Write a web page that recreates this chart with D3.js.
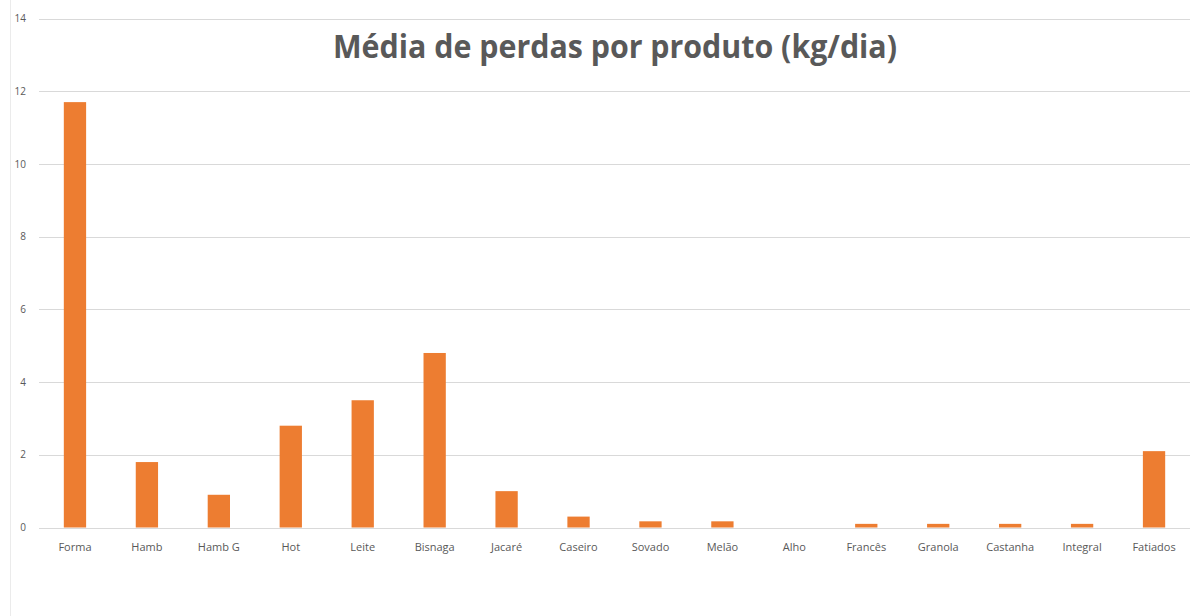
<!DOCTYPE html>
<html>
<head>
<meta charset="utf-8">
<script src="https://cdn.jsdelivr.net/npm/d3@7"></script>
<style>
  html, body { margin: 0; padding: 0; background: #fff; }
  svg { display: block; }
</style>
</head>
<body>
<svg id="chart" width="1203" height="616"></svg>
<script>
// Average daily losses per product (kg/day)
const produtos = ["Forma", "Hamb", "Hamb G", "Hot", "Leite", "Bisnaga", "Jacaré", "Caseiro",
  "Sovado", "Melão", "Alho", "Francês", "Granola", "Castanha", "Integral", "Fatiados"];
const perdas = [11.7, 1.8, 0.9, 2.8, 3.5, 4.8, 1.0, 0.3, 0.17, 0.17, 0, 0.1, 0.1, 0.1, 0.1, 2.1];
const yTicks = [0, 2, 4, 6, 8, 10, 12, 14];
const titulo = "Média de perdas por produto (kg/dia)";

const svg = d3.select("#chart");
const plotLeft = 39, plotRight = 1190, plotTop = 18.5, plotBottom = 527.5;

const x = d3.scaleBand().domain(produtos).range([plotLeft, plotRight])
  .paddingInner(0.69).paddingOuter(0.345);
const y = d3.scaleLinear().domain([0, 14]).range([plotBottom, plotTop]);

// faint frame edge on the left
svg.append("line").attr("x1", 10.5).attr("x2", 10.5).attr("y1", 0).attr("y2", 616)
  .attr("stroke", "#ebebeb").attr("stroke-width", 1);

// horizontal gridlines
svg.append("g").selectAll("line").data(yTicks).join("line")
  .attr("x1", plotLeft).attr("x2", plotRight)
  .attr("y1", d => Math.round(y(d)) + 0.5).attr("y2", d => Math.round(y(d)) + 0.5)
  .attr("stroke", "#d9d9d9").attr("stroke-width", 1);

// y-axis tick labels
const yAxis = d3.axisLeft(y).tickValues(yTicks).tickSize(0).tickPadding(0);
const gy = svg.append("g").attr("transform", "translate(26,0)").call(yAxis);
gy.select(".domain").remove();
gy.selectAll("text").attr("fill", "#595959")
  .style("font-family", "'Open Sans', sans-serif").style("font-size", "10px");

// bars
svg.append("g").selectAll("rect").data(produtos).join("rect")
  .attr("x", d => x(d))
  .attr("width", x.bandwidth())
  .attr("y", (d, i) => y(perdas[i]))
  .attr("height", (d, i) => y(0) - y(perdas[i]))
  .attr("fill", "#ED7D31");

// x-axis category labels
const xAxis = d3.axisBottom(x).tickSize(0).tickPadding(0);
const gx = svg.append("g").attr("transform", "translate(0,543)").call(xAxis);
gx.select(".domain").remove();
gx.selectAll("text").attr("fill", "#595959")
  .style("font-family", "'Open Sans', sans-serif").style("font-size", "11px");

// title
svg.append("text")
  .attr("x", 615).attr("y", 57.5)
  .attr("text-anchor", "middle")
  .attr("fill", "#595959")
  .attr("textLength", 564).attr("lengthAdjust", "spacingAndGlyphs")
  .style("font-family", "'Open Sans', sans-serif")
  .style("font-weight", "700")
  .style("font-size", "33px")
  .text(titulo);
</script>
</body>
</html>
